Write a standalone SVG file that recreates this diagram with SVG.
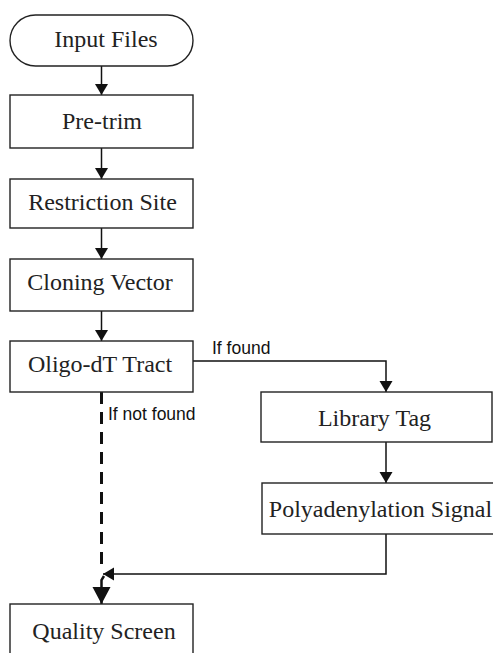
<svg xmlns="http://www.w3.org/2000/svg" width="493" height="653" viewBox="0 0 493 653">
<style>
.box{fill:#fff;stroke:#222;stroke-width:1.4}
.t{font-family:"Liberation Serif","Times New Roman",serif;font-size:24px;fill:#222;text-anchor:middle}
.lbl{font-family:"Liberation Sans",Arial,sans-serif;font-size:17.5px;fill:#111}
.c{fill:none;stroke:#111;stroke-width:1.5}
.d{fill:none;stroke:#111;stroke-width:3;stroke-dasharray:12 8}
</style>
<defs>
<marker id="ah" markerUnits="userSpaceOnUse" markerWidth="12" markerHeight="14" viewBox="0 0 12 14" refX="11" refY="7" orient="auto">
<path d="M0,0.5 L11,7 L0,13.5 Z" fill="#111"/>
</marker>
<marker id="ahb" markerUnits="userSpaceOnUse" markerWidth="18" markerHeight="20" viewBox="0 0 18 20" refX="17" refY="10" orient="auto">
<path d="M0,1 L17,10 L0,19 Z" fill="#111"/>
</marker>
</defs>
<rect width="493" height="653" fill="#fff"/>
<g id="connectors">
<line class="c" x1="101.5" y1="66" x2="101.5" y2="95" marker-end="url(#ah)"/>
<line class="c" x1="101.5" y1="148" x2="101.5" y2="179" marker-end="url(#ah)"/>
<line class="c" x1="101.5" y1="228" x2="101.5" y2="259" marker-end="url(#ah)"/>
<line class="c" x1="101.5" y1="311" x2="101.5" y2="341" marker-end="url(#ah)"/>
<polyline class="c" points="193,361 386,361 386,392" marker-end="url(#ah)"/>
<line class="c" x1="386" y1="442" x2="386" y2="483" marker-end="url(#ah)"/>
<polyline class="c" points="386,534 386,574 103,574" marker-end="url(#ah)"/>
<line class="d" x1="101.5" y1="392" x2="101.5" y2="566"/>
<polyline fill="none" stroke="#111" stroke-width="2.5" points="104,576 101.5,580 101.5,604" marker-end="url(#ahb)"/>
<text class="lbl" x="212" y="354">If found</text>
<text class="lbl" x="108" y="420">If not found</text>
</g>
<g id="input-files">
<rect class="box" x="10" y="15" width="183" height="51" rx="25.5" ry="25.5"/>
<text class="t" x="106" y="47">Input Files</text>
</g>
<g id="pre-trim">
<rect class="box" x="10" y="95" width="183" height="53"/>
<text class="t" x="102" y="129">Pre-trim</text>
</g>
<g id="restriction-site">
<rect class="box" x="10" y="179" width="183" height="49"/>
<text class="t" x="102.5" y="210">Restriction Site</text>
</g>
<g id="cloning-vector">
<rect class="box" x="10" y="259" width="183" height="52"/>
<text class="t" x="100" y="290">Cloning Vector</text>
</g>
<g id="oligo-dt-tract">
<rect class="box" x="10" y="341" width="183" height="51"/>
<text class="t" x="100" y="372">Oligo-dT Tract</text>
</g>
<g id="library-tag">
<rect class="box" x="261" y="392" width="231" height="50"/>
<text class="t" x="374.5" y="426">Library Tag</text>
</g>
<g id="polyadenylation-signal">
<rect class="box" x="262" y="483" width="250" height="51"/>
<text class="t" x="380.5" y="517">Polyadenylation Signal</text>
</g>
<g id="quality-screen">
<rect class="box" x="10" y="604" width="183" height="70"/>
<text class="t" x="104" y="639">Quality Screen</text>
</g>
</svg>
